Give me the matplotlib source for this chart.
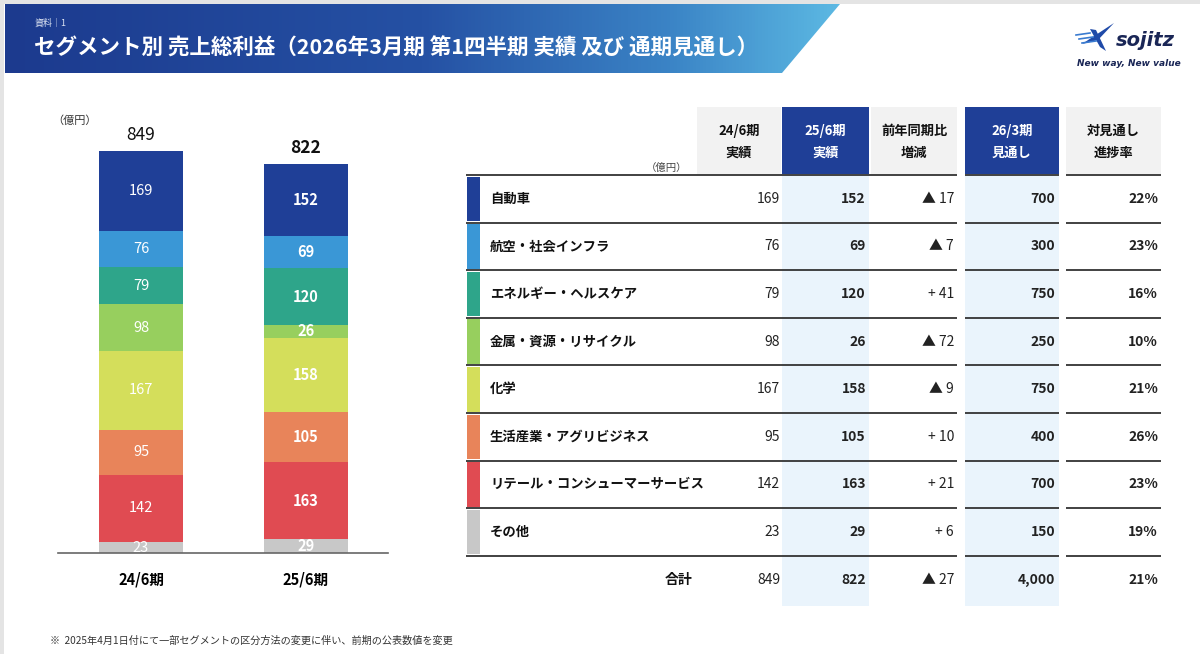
import numpy as np
import matplotlib.pyplot as plt
from matplotlib.patches import Polygon, Rectangle
from matplotlib.colors import LinearSegmentedColormap

plt.rcParams['font.family'] = ['Noto Sans CJK JP', 'DejaVu Sans']

# ---- data ----
segments = ['自動車', '航空・社会インフラ', 'エネルギー・ヘルスケア', '金属・資源・リサイクル',
            '化学', '生活産業・アグリビジネス', 'リテール・コンシューマーサービス', 'その他']
seg_colors = ['#1f3f97', '#3a97d6', '#2ea58a', '#97cf5e',
              '#d4de5b', '#e8845a', '#e04b52', '#c8c8c8']
fy24 = [169, 76, 79, 98, 167, 95, 142, 23]
fy25 = [152, 69, 120, 26, 158, 105, 163, 29]
forecast = [700, 300, 750, 250, 750, 400, 700, 150]
progress = [22, 23, 16, 10, 21, 26, 23, 19]
total_progress = 21
periods = ['24/6期', '25/6期']
col_heads = [('24/6期', '実績'), ('25/6期', '実績'), ('前年同期比', '増減'),
             ('26/3期', '見通し'), ('対見通し', '進捗率')]

title = 'セグメント別 売上総利益（2026年3月期 第1四半期 実績 及び 通期見通し）'
note = '※  2025年4月1日付にて一部セグメントの区分方法の変更に伴い、前期の公表数値を変更'

W, H = 1200, 654
fig = plt.figure(figsize=(12, 6.54), dpi=100)
bg = fig.add_axes([0, 0, 1, 1])
bg.axis('off')

# page edge
bg.add_patch(Rectangle((0, 0), W, 4, color='#e4e4e4', lw=0))
bg.add_patch(Rectangle((0, 0), 4, H, color='#e4e4e4', lw=0))

# title band with gradient
band = Polygon([(5, 4), (840, 4), (782, 73), (5, 73)], closed=True, fc='none', ec='none')
bg.add_patch(band)
cmap = LinearSegmentedColormap.from_list(
    'band', [(0, '#1c3a8e'), (0.5, '#2551a4'), (0.8, '#3b84c6'), (1, '#5cb9e3')])
im = bg.imshow(np.linspace(0, 1, 256).reshape(1, -1), extent=(5, 840, 73, 4),
               aspect='auto', cmap=cmap, zorder=1)
im.set_clip_path(band)
bg.set_xlim(0, W)
bg.set_ylim(H, 0)

bg.text(35, 23, '資料｜1', color='#dfe6f3', fontsize=6.5, va='center', zorder=3)
bg.text(34, 48, title, color='white', fontsize=15.5, fontweight='bold', va='center', zorder=3)

# logo (rough)
bg.add_patch(Polygon([(1082, 44), (1114, 23), (1098, 40)], closed=True, fc='#1f4aa8', ec='none'))
bg.add_patch(Polygon([(1090, 29), (1096, 30), (1106, 51), (1100, 47)], closed=True,
                     fc='#1f4aa8', ec='none'))
for yy, x0 in [(35, 1076), (39, 1079), (43, 1082)]:
    bg.plot([x0, x0 + 14], [yy, yy - 2], color='#3a7bd0', lw=1.2)
bg.text(1116, 40, 'sojitz', color='#1a2656', fontsize=14, fontweight='bold',
        fontstyle='italic', family='DejaVu Sans', va='center')
bg.text(1129, 63, 'New way, New value', color='#1a2656', fontsize=6.5, fontweight='bold',
        fontstyle='italic', family='DejaVu Sans', va='center', ha='center')

# ---- stacked bar chart ----
def px(x0, y0, x1, y1):
    return [x0 / W, 1 - y1 / H, (x1 - x0) / W, (y1 - y0) / H]

ax = fig.add_axes(px(58, 110, 388, 553))
scale = (553 - 151) / 849.0
ax.set_ylim(0, (553 - 110) / scale)
ax.set_xlim(-0.503, 1.497)
xs = np.arange(len(periods))
bottom = np.zeros(len(periods))
for i in reversed(range(len(segments))):
    vals = np.array([fy24[i], fy25[i]])
    ax.bar(xs, vals, 0.51, bottom=bottom, color=seg_colors[i], lw=0)
    for j in range(len(periods)):
        ax.text(xs[j], bottom[j] + vals[j] / 2, str(vals[j]), ha='center', va='center',
                color='white', fontsize=10.5, fontweight='bold' if j == 1 else 'normal')
    bottom += vals
for j in range(len(periods)):
    ax.annotate(str(int(bottom[j])), (xs[j], bottom[j]), xytext=(0, 5),
                textcoords='offset points', ha='center', va='bottom', fontsize=12.5,
                fontweight='bold' if j == 1 else 'normal', color='#111')
for s in ['top', 'left', 'right']:
    ax.spines[s].set_visible(False)
ax.spines['bottom'].set_color('#666')
ax.spines['bottom'].set_linewidth(1.2)
ax.set_yticks([])
ax.set_xticks(xs)
ax.set_xticklabels(periods, fontsize=10.5, fontweight='bold')
ax.tick_params(axis='x', length=0, pad=13)
ax.patch.set_alpha(0)
bg.text(52, 121, '（億円）', fontsize=8, color='#333', va='center')

# ---- table ----
col_left = [697, 782, 871, 964.5, 1066]
col_right = [780.5, 869, 957, 1059, 1161]
col_blue = [False, True, False, True, False]
hdr_top, hdr_bot = 107, 174
for k, (h1, h2) in enumerate(col_heads):
    fc = '#1f3f97' if col_blue[k] else '#f2f2f2'
    tc = 'white' if col_blue[k] else '#111'
    bg.add_patch(Rectangle((col_left[k], hdr_top), col_right[k] - col_left[k],
                           hdr_bot - hdr_top, fc=fc, ec='none'))
    cx = (col_left[k] + col_right[k]) / 2
    bg.text(cx, 131, h1, ha='center', va='center', color=tc, fontsize=9.5, fontweight='bold')
    bg.text(cx, 153, h2, ha='center', va='center', color=tc, fontsize=9.5, fontweight='bold')
    if col_blue[k]:
        bg.add_patch(Rectangle((col_left[k], hdr_bot), col_right[k] - col_left[k],
                               606 - hdr_bot, fc='#eaf4fc', ec='none', zorder=0.5))
bg.text(687, 168, '（億円）', ha='right', va='center', fontsize=7.5, color='#444')

pitch = 47.6
lines_y = [175 + pitch * i for i in range(len(segments) + 1)]
seg_x = [(466, 957), (964.5, 1059), (1066, 1161)]
for yy in lines_y:
    for a, b in seg_x:
        bg.plot([a, b], [yy, yy], color='#333', lw=1.3, solid_capstyle='butt', zorder=2)

num_right = [780, 866, 954, 1055, 1158]


def diff_str(d):
    return '▲ %d' % abs(d) if d < 0 else '+ %d' % d


for i, seg in enumerate(segments):
    y0, y1 = lines_y[i], lines_y[i + 1]
    yc = (y0 + y1) / 2
    bg.add_patch(Rectangle((467, y0 + 1.5), 13, y1 - y0 - 3, fc=seg_colors[i], ec='none'))
    bg.text(490, yc, seg, va='center', fontsize=9.6, fontweight='bold', color='#111')
    cells = [str(fy24[i]), str(fy25[i]), diff_str(fy25[i] - fy24[i]),
             '{:,}'.format(forecast[i]), '%d%%' % progress[i]]
    for k, c in enumerate(cells):
        bg.text(num_right[k], yc, c, ha='right', va='center', fontsize=10,
                fontweight='normal' if k in (0, 2) else 'bold', color='#222')

yt = lines_y[-1] + 24
tot = [str(sum(fy24)), str(sum(fy25)), diff_str(sum(fy25) - sum(fy24)),
       '{:,}'.format(sum(forecast)), '%d%%' % total_progress]
bg.text(692, yt, '合計', ha='right', va='center', fontsize=10, fontweight='bold', color='#111')
for k, c in enumerate(tot):
    bg.text(num_right[k], yt, c, ha='right', va='center', fontsize=10,
            fontweight='normal' if k in (0, 2) else 'bold', color='#222')

bg.text(50, 641, note, fontsize=7.3, color='#333', va='center')

fig.savefig('out.png', dpi=100)
